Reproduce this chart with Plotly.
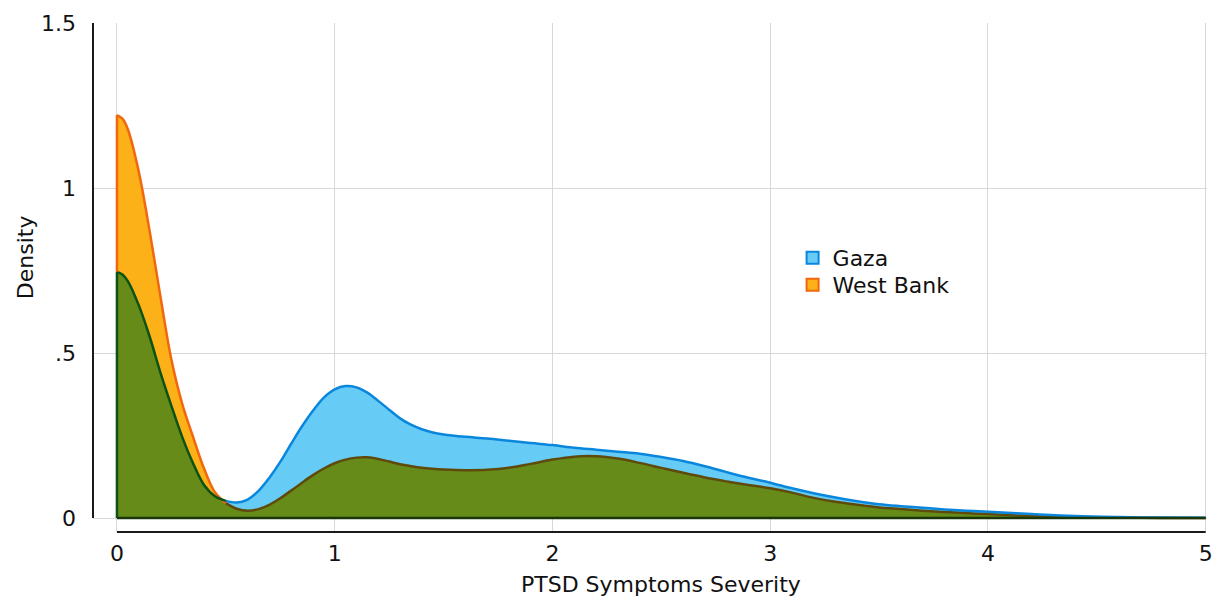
import plotly.graph_objects as go

# PTSD symptom severity densities (kernel density estimates)
severity = [0.0, 0.025, 0.05, 0.1, 0.15, 0.2, 0.25, 0.3, 0.35, 0.4, 0.45, 0.5, 0.55, 0.6,
            0.65, 0.7, 0.75, 0.8, 0.85, 0.9, 0.95, 1.0, 1.05, 1.1, 1.15, 1.2, 1.25, 1.3,
            1.35, 1.4, 1.45, 1.5, 1.6, 1.7, 1.8, 1.9, 2.0, 2.1, 2.2, 2.3, 2.4, 2.5, 2.6,
            2.7, 2.8, 2.9, 3.0, 3.1, 3.2, 3.3, 3.4, 3.5, 3.6, 3.7, 3.8, 3.9, 4.0, 4.2,
            4.4, 4.6, 4.8, 5.0]

gaza = [0.746, 0.738, 0.718, 0.645, 0.55, 0.44, 0.34, 0.245, 0.165, 0.10, 0.066, 0.052,
        0.047, 0.056, 0.082, 0.122, 0.17, 0.225, 0.278, 0.325, 0.365, 0.39, 0.40, 0.396,
        0.38, 0.355, 0.328, 0.302, 0.283, 0.269, 0.259, 0.253, 0.246, 0.241, 0.234, 0.227,
        0.221, 0.213, 0.207, 0.201, 0.195, 0.185, 0.173, 0.157, 0.139, 0.122, 0.107, 0.09,
        0.075, 0.062, 0.051, 0.042, 0.036, 0.031, 0.026, 0.022, 0.019, 0.012, 0.006,
        0.003, 0.0012, 0.0005]

west_bank = [1.221, 1.21, 1.178, 1.05, 0.87, 0.67, 0.48, 0.345, 0.245, 0.15, 0.078, 0.045,
             0.028, 0.022, 0.027, 0.04, 0.06, 0.083, 0.107, 0.13, 0.15, 0.166, 0.177, 0.183,
             0.184, 0.179, 0.171, 0.163, 0.157, 0.152, 0.149, 0.147, 0.145, 0.146, 0.152,
             0.164, 0.177, 0.186, 0.187, 0.18, 0.167, 0.152, 0.137, 0.123, 0.111, 0.10,
             0.09, 0.077, 0.061, 0.049, 0.04, 0.032, 0.027, 0.022, 0.018, 0.015, 0.012,
             0.006, 0.002, 0.0008, 0.0002, 0.0]

x_ticks = [0, 1, 2, 3, 4, 5]
y_ticks = [0, 0.5, 1, 1.5]
y_tick_text = ["0", ".5", "1", "1.5"]

GAZA_FILL, GAZA_LINE = "#66CCF5", "#0A87DC"
WB_FILL, WB_LINE = "#FBB117", "#F2660E"
BOTH_FILL = "#668B18"          # the two fills multiplied together
GAZA_LINE_UNDER = "#0B5214"    # Gaza outline seen through the West Bank fill
WB_LINE_UNDER = "#5F4A0C"      # West Bank outline seen through the Gaza fill
FONT = "DejaVu Sans, sans-serif"
FONT_SIZE = 22
SMOOTH = 1.0
LINE_W = 2.5

overlap = [min(g, w) for g, w in zip(gaza, west_bank)]

# index where Gaza first rises above West Bank
cross = next(i for i, (g, w) in enumerate(zip(gaza, west_bank)) if g > w)

fig = go.Figure()


def area(y, color):
    fig.add_trace(go.Scatter(x=severity, y=y, mode="lines", fill="tozeroy",
                             fillcolor=color, line=dict(width=0, shape="spline", smoothing=SMOOTH),
                             hoverinfo="skip", showlegend=False))


def outline(x, y, color, shape="spline"):
    fig.add_trace(go.Scatter(x=x, y=y, mode="lines",
                             line=dict(color=color, width=LINE_W, shape=shape, smoothing=SMOOTH),
                             hoverinfo="skip", showlegend=False))


area(west_bank, WB_FILL)
area(gaza, GAZA_FILL)
area(overlap, BOTH_FILL)

# outlines: colour depends on which fill lies on top
outline(severity[:cross + 1], west_bank[:cross + 1], WB_LINE)
outline(severity[cross:], west_bank[cross:], WB_LINE_UNDER)
outline(severity[cross:], gaza[cross:], GAZA_LINE)
outline(severity[:cross + 1], gaza[:cross + 1], GAZA_LINE_UNDER)

# left edges and baseline of the areas
outline([severity[0], severity[0]], [gaza[0], west_bank[0]], WB_LINE, "linear")
outline([severity[0], severity[0]], [0, gaza[0]], GAZA_LINE_UNDER, "linear")
outline([severity[0], severity[-1]], [0, 0], "#1B3608", "linear")

# legend entries, one legend box each so the rows sit close together
for name, fc, lc, lg in [("Gaza", GAZA_FILL, GAZA_LINE, "legend"),
                         ("West Bank", WB_FILL, WB_LINE, "legend2")]:
    fig.add_trace(go.Scatter(x=[None], y=[None], mode="markers", name=name, legend=lg,
                             marker=dict(symbol="square", size=12, color=fc,
                                         line=dict(color=lc, width=2))))

legend_style = dict(x=0.628, xanchor="left", yanchor="middle", bgcolor="rgba(0,0,0,0)",
                    font=dict(size=FONT_SIZE), itemsizing="constant")

axis_color = "#1A1A1A"
fig.update_layout(
    width=1212, height=598,
    margin=dict(l=93, r=5, t=23, b=66),
    plot_bgcolor="white", paper_bgcolor="white",
    font=dict(family=FONT, size=FONT_SIZE, color="#111111"),
    showlegend=True,
    legend=dict(y=0.5383, **legend_style),
    legend2=dict(y=0.4853, **legend_style),
    xaxis=dict(range=[-0.11, 5.006], tickvals=x_ticks, showgrid=True, gridcolor="#D8D8D8",
               gridwidth=1, zeroline=False, showline=False, ticks="", automargin=False,
               ticklabeloverflow="allow", ticklabelstandoff=6, tickfont=dict(size=FONT_SIZE)),
    yaxis=dict(range=[-0.0424, 1.5], tickvals=y_ticks, ticktext=y_tick_text, showgrid=True,
               gridcolor="#D8D8D8", gridwidth=1, zeroline=False, showline=False, ticks="",
               automargin=False, ticklabeloverflow="allow", ticklabelstandoff=16,
               tickfont=dict(size=FONT_SIZE)),
    shapes=[
        dict(type="line", xref="paper", yref="y", x0=0, x1=0, y0=y_ticks[0], y1=y_ticks[-1],
             line=dict(color=axis_color, width=2)),
        dict(type="line", xref="x", yref="paper", x0=x_ticks[0], x1=x_ticks[-1], y0=0, y1=0,
             line=dict(color=axis_color, width=2)),
    ],
    annotations=[
        dict(text="PTSD Symptoms Severity", xref="paper", yref="paper", x=0.51, y=-0.104,
             xanchor="center", yanchor="middle", showarrow=False, font=dict(size=FONT_SIZE)),
        dict(text="Density", xref="paper", yref="paper", x=-0.061, y=0.54, textangle=-90,
             xanchor="center", yanchor="middle", showarrow=False, font=dict(size=FONT_SIZE)),
    ],
)

fig.write_html("out.html")
